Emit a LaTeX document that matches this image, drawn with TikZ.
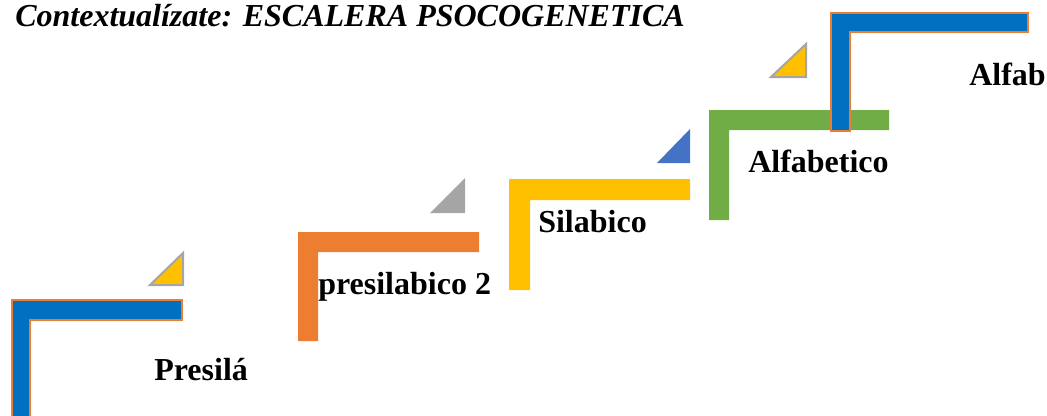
\documentclass[tikz,border=0pt]{standalone}
\usepackage{fontspec}
\setmainfont{Liberation Serif}
\usetikzlibrary{positioning}
\definecolor{stairblue}{HTML}{0070C0}
\definecolor{stairorange}{HTML}{ED7D31}
\definecolor{stairgray}{HTML}{A5A5A5}
\definecolor{stairyellow}{HTML}{FFC000}
\definecolor{stairgreen}{HTML}{70AD47}
\definecolor{trisblue}{HTML}{4472C4}
\tikzset{
  every node/.style={inner sep=0pt, anchor=base west},
  lbl/.style      = {font=\fontsize{24}{28}\selectfont\bfseries},
  title/.style    = {font=\fontsize{24}{28}\selectfont\bfseries\itshape},
  bluestep/.style = {fill=stairblue, draw=stairorange, line width=1.5pt},
  orgstep/.style  = {fill=stairorange},
  yelstep/.style  = {fill=stairyellow},
  grnstep/.style  = {fill=stairgreen},
  yeltri/.style   = {fill=stairyellow, draw=stairgray, line width=1.5pt},
  graytri/.style  = {fill=stairgray},
  bluetri/.style  = {fill=trisblue},
}
\begin{document}
\begin{tikzpicture}[x=0.75pt, y=-0.75pt]
  \clip (0,0) rectangle (1047,415);

  % ---- title ----
  \node[title] (head) at (15,26) {Contextualízate: ESCALERA PSOCOGENETICA};

  % ---- step 1 ----
  \draw[bluestep] (12,300) -- (182,300) -- (182,320) -- (30,320) -- (30,430) -- (12,430) -- cycle;
  \draw[yeltri] (150,285) -- (183,285) -- (183,253) -- cycle;
  \node[lbl] (presila) at (154,380) {Presilá};

  % ---- step 2 ----
  \fill[orgstep] (298,232) -- (479,232) -- (479,252) -- (318,252) -- (318,341) -- (298,341) -- cycle;
  \fill[graytri] (430,213) -- (465,213) -- (465,178) -- cycle;
  \node[lbl] (presil2) at (318,294) {presilabico 2};

  % ---- step 3 ----
  \fill[yelstep] (509,179) -- (690,179) -- (690,200) -- (530,200) -- (530,290) -- (509,290) -- cycle;
  \fill[bluetri] (657,163) -- (690,163) -- (690,129) -- cycle;
  \node[lbl] (silab) at (538,232) {Silabico};

  % ---- step 4 ----
  \fill[grnstep] (709,110) -- (889,110) -- (889,130) -- (729,130) -- (729,220) -- (709,220) -- cycle;
  \draw[yeltri] (771,77) -- (806,77) -- (806,44) -- cycle;
  \node[lbl] (alfa) at (748,172) {Alfabetico};

  % ---- step 5 ----
  \draw[bluestep] (831,13) -- (1028,13) -- (1028,32) -- (850,32) -- (850,131) -- (831,131) -- cycle;
  \node[lbl] (alfab) at (969,85) {Alfab};
\end{tikzpicture}
\end{document}
